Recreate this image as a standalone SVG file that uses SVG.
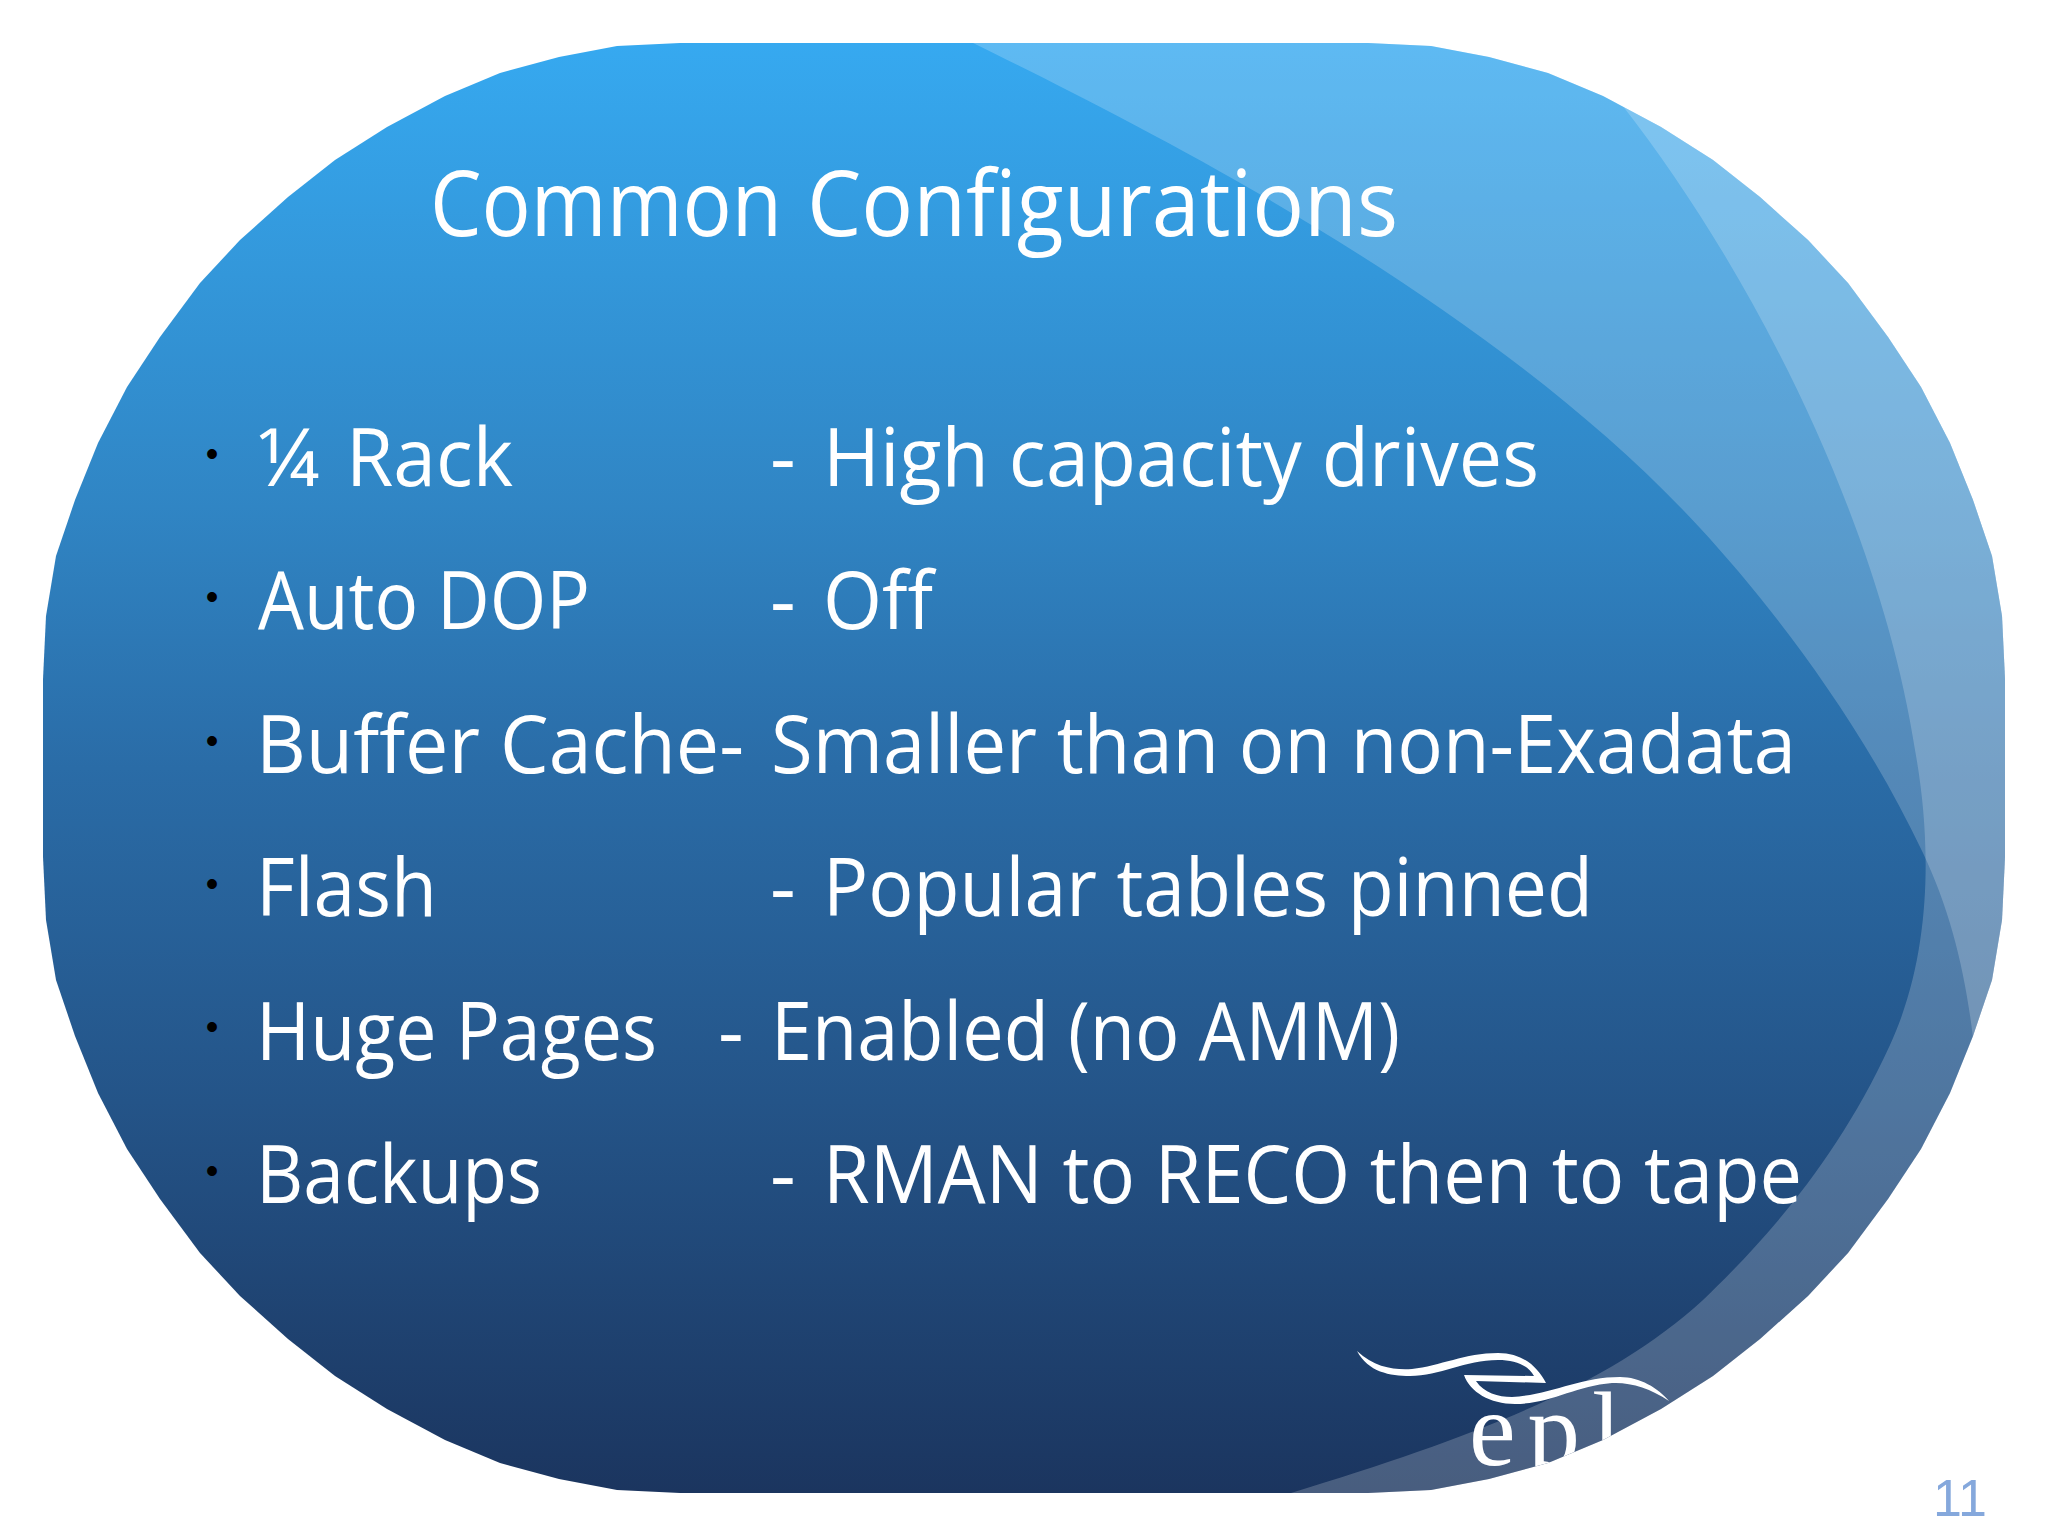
<svg xmlns="http://www.w3.org/2000/svg" width="2048" height="1536" viewBox="0 0 2048 1536">
<style>
.t{font-family:"Open Sans","Noto Sans",sans-serif;fill:#fff}
.b{font-size:80px}
.d{font-family:"Liberation Sans",sans-serif;font-size:36px;fill:#000;text-anchor:middle}
.o{fill:#fff;fill-opacity:.2}
</style>
<defs>
<linearGradient id="g" gradientUnits="userSpaceOnUse" x1="0" y1="43" x2="0" y2="1493">
<stop offset="0" stop-color="#36a9f0"/>
<stop offset=".32" stop-color="#3085c4"/>
<stop offset=".5" stop-color="#2a6ca7"/>
<stop offset=".73" stop-color="#245488"/>
<stop offset="1" stop-color="#1b355f"/>
</linearGradient>
<clipPath id="c"><polygon id="outline" points="1368,43 1431,46 1489,57 1548,73 1603,96 1661,127 1713,160 1760,197 1808,240 1848,283 1888,337 1921,387 1950,443 1973,500 1992,556 2002,616 2005,679 2005,857 2002,920 1992,980 1973,1036 1950,1093 1921,1149 1888,1199 1848,1253 1808,1296 1760,1339 1713,1376 1661,1409 1603,1440 1548,1463 1489,1479 1431,1490 1368,1493 680,1493 617,1490 559,1479 500,1463 445,1440 387,1409 335,1376 288,1339 240,1296 200,1253 160,1199 127,1149 98,1093 75,1036 56,980 46,920 43,857 43,679 46,616 56,556 75,500 98,443 127,387 160,337 200,283 240,240 288,197 335,160 387,127 445,96 500,73 559,57 617,46 680,43"/></clipPath>
</defs>
<rect width="2048" height="1536" fill="#fff"/>
<g id="backdrop" clip-path="url(#c)">
<rect width="2048" height="1536" fill="url(#g)"/>
<path class="o" d="M973,43 C1150,130 1490,300 1700,528 C1770,604 1860,720 1923,853 C1950,910 1965,970 1973,1038 L2048,1100 L2048,0 L973,0 Z"/>
<path class="o" d="M1622,105 C1755,275 1880,525 1915,750 C1930,832 1935,947 1890,1045 C1835,1165 1760,1245 1703,1300 C1610,1385 1480,1435 1291,1493 L1200,1536 L2048,1536 L2048,0 L1590,0 Z"/>
</g>
<g id="logo" clip-path="url(#c)">
<path fill="#fff" d="M1357,1351 C1375,1368 1395,1370 1412,1369 C1440,1366 1465,1353 1498,1353 C1524,1353 1538,1368 1546,1383 L1476,1381 C1484,1393 1498,1397 1512,1397 C1550,1395 1580,1377 1620,1377 C1640,1377 1658,1388 1669,1401 C1650,1388 1630,1382 1612,1383 C1575,1386 1550,1404 1515,1404 C1490,1404 1470,1392 1464,1375 L1534,1376 C1528,1365 1515,1360 1498,1360 C1465,1360 1440,1376 1410,1376 C1390,1376 1368,1372 1357,1351 Z"/>
<text x="1469" y="1465" font-family="'Liberation Serif',serif" font-size="105" letter-spacing="12" fill="#fff">epl</text>
</g>
<g id="title"><text class="t" y="236" font-size="92"><tspan x="430" textLength="352" lengthAdjust="spacingAndGlyphs">Common</tspan> <tspan x="807" textLength="591" lengthAdjust="spacingAndGlyphs">Configurations</tspan></text></g>
<g id="bullets">
<text class="d" x="212" y="466">•</text>
<text class="d" x="212" y="609">•</text>
<text class="d" x="212" y="753">•</text>
<text class="d" x="212" y="896">•</text>
<text class="d" x="212" y="1039">•</text>
<text class="d" x="212" y="1183">•</text>
</g>
<g id="body">
<text class="t b" y="486"><tspan x="257" textLength="62" lengthAdjust="spacingAndGlyphs">¼</tspan> <tspan x="346" textLength="167" lengthAdjust="spacingAndGlyphs">Rack</tspan></text>
<text class="t b" y="486"><tspan x="770">-</tspan> <tspan x="823" textLength="716" lengthAdjust="spacingAndGlyphs">High capacity drives</tspan></text>
<text class="t b" x="258" y="629" textLength="332" lengthAdjust="spacingAndGlyphs">Auto DOP</text>
<text class="t b" y="629"><tspan x="770">-</tspan> <tspan x="823" textLength="110" lengthAdjust="spacingAndGlyphs">Off</tspan></text>
<text class="t b" x="256" y="773" textLength="488" lengthAdjust="spacingAndGlyphs">Buffer Cache-</text>
<text class="t b" x="771" y="773" textLength="1025" lengthAdjust="spacingAndGlyphs">Smaller than on non-Exadata</text>
<text class="t b" x="256" y="916" textLength="181" lengthAdjust="spacingAndGlyphs">Flash</text>
<text class="t b" y="916"><tspan x="770">-</tspan> <tspan x="823" textLength="770" lengthAdjust="spacingAndGlyphs">Popular tables pinned</tspan></text>
<text class="t b" x="256" y="1060" textLength="401" lengthAdjust="spacingAndGlyphs">Huge Pages</text>
<text class="t b" y="1060"><tspan x="718">-</tspan> <tspan x="771" textLength="629" lengthAdjust="spacingAndGlyphs">Enabled (no AMM)</tspan></text>
<text class="t b" x="256" y="1203" textLength="286" lengthAdjust="spacingAndGlyphs">Backups</text>
<text class="t b" y="1203"><tspan x="770">-</tspan> <tspan x="823" textLength="979" lengthAdjust="spacingAndGlyphs">RMAN to RECO then to tape</tspan></text>
</g>
<g id="page"><text x="1933" y="1516" font-family="'Liberation Sans',sans-serif" font-size="52" fill="#85a8dc">11</text></g>
</svg>
